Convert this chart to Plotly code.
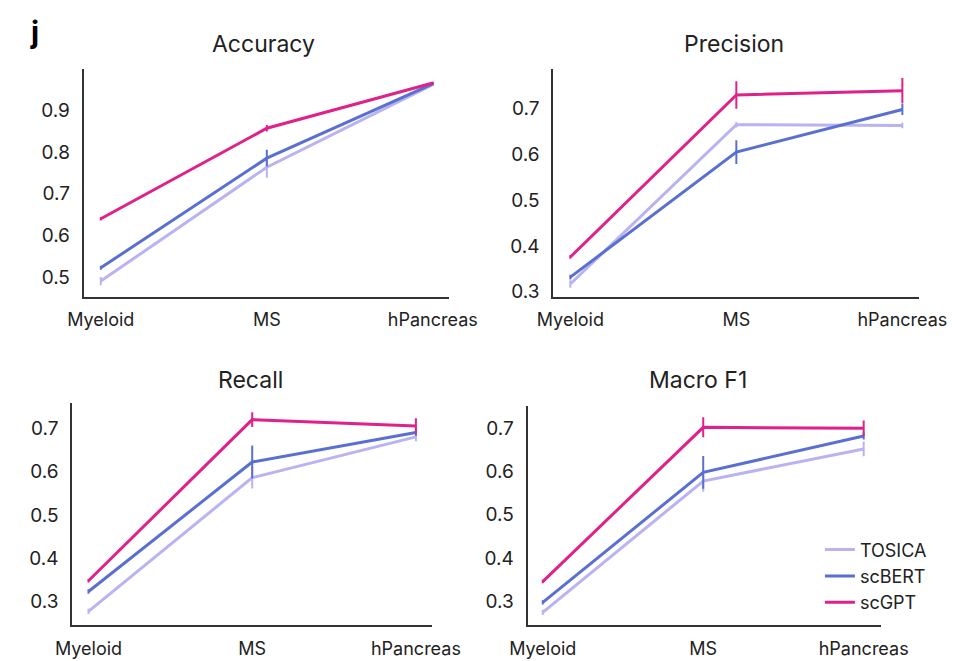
import plotly.graph_objects as go

categories = ["Myeloid", "MS", "hPancreas"]
models = ["TOSICA", "scBERT", "scGPT"]
colors = {"TOSICA": "#bab3f2", "scBERT": "#5a6fd2", "scGPT": "#e0218a"}

# metric -> model -> values / errors
acc_vals = {"TOSICA": [0.490, 0.764, 0.963], "scBERT": [0.522, 0.786, 0.965], "scGPT": [0.640, 0.858, 0.967]}
acc_errs = {"TOSICA": [0.010, 0.025, 0.003], "scBERT": [0.005, 0.020, 0.003], "scGPT": [0.004, 0.008, 0.003]}

prec_vals = {"TOSICA": [0.317, 0.665, 0.663], "scBERT": [0.332, 0.605, 0.698], "scGPT": [0.376, 0.730, 0.739]}
prec_errs = {"TOSICA": [0.008, 0.006, 0.006], "scBERT": [0.005, 0.026, 0.012], "scGPT": [0.004, 0.030, 0.028]}

rec_vals = {"TOSICA": [0.277, 0.586, 0.680], "scBERT": [0.323, 0.622, 0.690], "scGPT": [0.348, 0.720, 0.705]}
rec_errs = {"TOSICA": [0.006, 0.025, 0.010], "scBERT": [0.005, 0.038, 0.008], "scGPT": [0.004, 0.017, 0.018]}

f1_vals = {"TOSICA": [0.275, 0.578, 0.652], "scBERT": [0.298, 0.598, 0.682], "scGPT": [0.346, 0.702, 0.700]}
f1_errs = {"TOSICA": [0.006, 0.025, 0.017], "scBERT": [0.005, 0.038, 0.008], "scGPT": [0.004, 0.023, 0.018]}

panels = [
    ("Accuracy", acc_vals, acc_errs, [0.452, 1.0], [0.5, 0.6, 0.7, 0.8, 0.9]),
    ("Precision", prec_vals, prec_errs, [0.289, 0.786], [0.3, 0.4, 0.5, 0.6, 0.7]),
    ("Recall", rec_vals, rec_errs, [0.245, 0.759], [0.3, 0.4, 0.5, 0.6, 0.7]),
    ("Macro F1", f1_vals, f1_errs, [0.245, 0.752], [0.3, 0.4, 0.5, 0.6, 0.7]),
]

W, H = 966, 661
# pixel boxes (left, right, top, bottom)
boxes = [(69, 453, 70, 300), (562, 946, 70, 300), (57, 435, 407, 632), (535, 906, 410, 632)]
xranges = [[-0.103, 2.10], [-0.103, 2.10], [-0.099, 2.10], [-0.095, 2.107]]

FONT = "Inter, Open Sans, sans-serif"
TXT = "#222222"

fig = go.Figure()
layout = {}
for i, (title, vals, errs, yr, yt) in enumerate(panels):
    n = "" if i == 0 else str(i + 1)
    xa, ya = "x" + n, "y" + n
    l, r, t, b = boxes[i]
    for m in models:
        fig.add_trace(go.Scatter(
            x=list(range(len(categories))), y=vals[m], mode="lines",
            line=dict(color=colors[m], width=3),
            error_y=dict(type="data", array=errs[m], color=colors[m], thickness=2, width=0),
            name=m, legendgroup=m, showlegend=(i == 3),
            xaxis=xa, yaxis=ya))
    layout["xaxis" + n] = dict(
        domain=[l / W, r / W], anchor=ya, range=xranges[i],
        tickvals=list(range(len(categories))), ticktext=categories,
        showline=True, linecolor="#333333", linewidth=2, showgrid=False, zeroline=False,
        ticks="outside", ticklen=6, tickcolor="rgba(0,0,0,0)",
        tickfont=dict(size=18, color=TXT, family=FONT))
    layout["yaxis" + n] = dict(
        domain=[1 - b / H, 1 - t / H], anchor=xa, range=yr,
        tickvals=yt, ticktext=[f"{v:.1f}" for v in yt],
        showline=True, linecolor="#333333", linewidth=2, showgrid=False, zeroline=False,
        ticks="outside", ticklen=8, tickcolor="rgba(0,0,0,0)",
        tickfont=dict(size=19, color=TXT, family=FONT))

annotations = [
    dict(text="Accuracy", x=258 / W, y=1 - 44 / H, xref="paper", yref="paper", showarrow=False,
         font=dict(size=23, color=TXT, family=FONT), xanchor="center", yanchor="middle"),
    dict(text="Precision", x=752 / W, y=1 - 44 / H, xref="paper", yref="paper", showarrow=False,
         font=dict(size=23, color=TXT, family=FONT), xanchor="center", yanchor="middle"),
    dict(text="Recall", x=244 / W, y=1 - 384 / H, xref="paper", yref="paper", showarrow=False,
         font=dict(size=23, color=TXT, family=FONT), xanchor="center", yanchor="middle"),
    dict(text="Macro F1", x=714 / W, y=1 - 384 / H, xref="paper", yref="paper", showarrow=False,
         font=dict(size=23, color=TXT, family=FONT), xanchor="center", yanchor="middle"),
    dict(text="<b>j</b>", x=11 / W, y=1 - 32 / H, xref="paper", yref="paper", showarrow=False,
         font=dict(size=30, color="#000000", family=FONT), xanchor="left", yanchor="middle"),
]

fig.update_layout(
    width=W, height=H, margin=dict(l=0, r=0, t=0, b=0),
    paper_bgcolor="white", plot_bgcolor="white",
    annotations=annotations,
    legend=dict(x=842 / W, y=1 - 537 / H, xanchor="left", yanchor="top",
                font=dict(size=18, color=TXT, family=FONT), tracegroupgap=0,
                itemwidth=30, bgcolor="rgba(0,0,0,0)"),
    **layout)

fig.write_html("out.html")
